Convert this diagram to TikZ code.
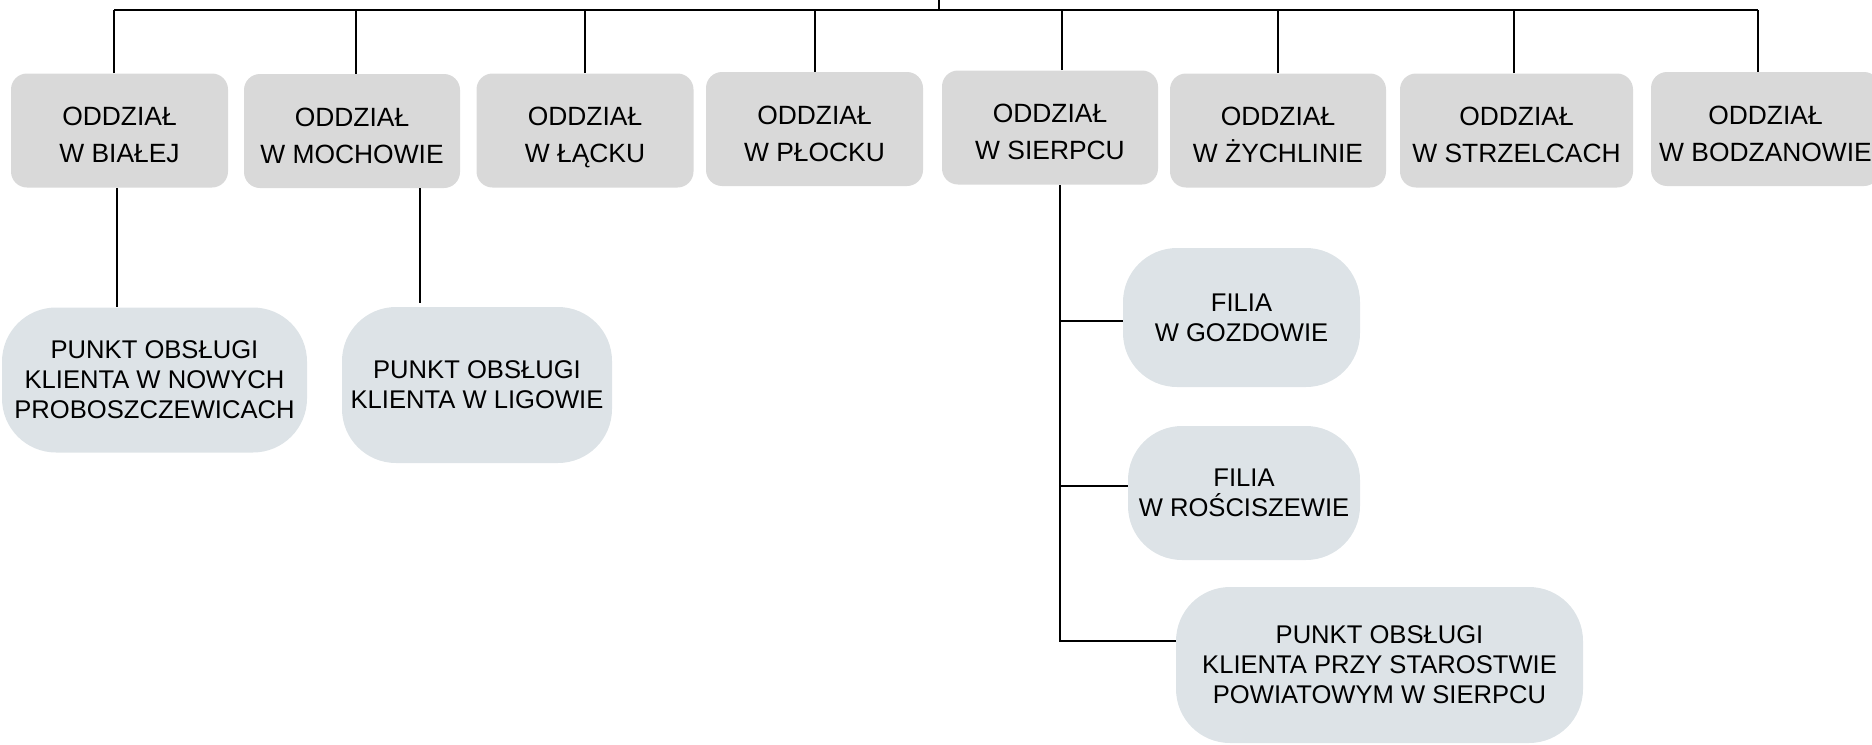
\documentclass[tikz,border=0pt]{standalone}
\usepackage{fontspec}
\setmainfont{Liberation Sans}
\definecolor{graybox}{RGB}{217,217,217}
\definecolor{bluebox}{RGB}{221,227,231}
\begin{document}
\begin{tikzpicture}[x=0.5pt,y=-0.5pt,
  conn/.style={draw=black,line width=1pt},
  oddzial/.style={rectangle,rounded corners=8pt,fill=graybox,inner sep=0pt,
    minimum height=57pt,align=center,text height=32pt,text depth=0pt,
    font=\fontsize{13.2}{18.35}\selectfont},
  punkt/.style={rectangle,rounded corners=27pt,fill=bluebox,inner sep=0pt,
    align=center,font=\fontsize{12.8}{15}\selectfont}]
\useasboundingbox (0,0) rectangle (1872,744);
\clip (0,0) rectangle (1872,744);
% row 1
\node[oddzial,minimum width=108.5pt] (b1) at (119.5,130.5) {ODDZIAŁ\\W BIAŁEJ};
\node[oddzial,minimum width=108pt] (b2) at (352,131) {ODDZIAŁ\\W MOCHOWIE};
\node[oddzial,minimum width=108.5pt] (b3) at (585,130.5) {ODDZIAŁ\\W ŁĄCKU};
\node[oddzial,minimum width=108.5pt] (b4) at (814.5,129) {ODDZIAŁ\\W PŁOCKU};
\node[oddzial,minimum width=108pt] (b5) at (1050,127.5) {ODDZIAŁ\\W SIERPCU};
\node[oddzial,minimum width=108pt] (b6) at (1278,130.5) {ODDZIAŁ\\W ŻYCHLINIE};
\node[oddzial,minimum width=116.5pt] (b7) at (1516.5,130.5) {ODDZIAŁ\\W STRZELCACH};
\node[oddzial,minimum width=114.5pt] (b8) at (1765.5,129) {ODDZIAŁ\\W BODZANOWIE};
% row 2
\node[punkt,minimum width=152.5pt,minimum height=72.5pt] (p1) at (154.5,380) {PUNKT OBSŁUGI\\KLIENTA W NOWYCH\\PROBOSZCZEWICACH};
\node[punkt,minimum width=135pt,minimum height=78pt] (p2) at (477,385) {PUNKT OBSŁUGI\\KLIENTA W LIGOWIE};
\node[punkt,minimum width=118.5pt,minimum height=69.5pt] (f1) at (1241.5,317.5) {FILIA\\W GOZDOWIE};
\node[punkt,minimum width=116pt,minimum height=67pt] (f2) at (1244,493) {FILIA\\W ROŚCISZEWIE};
\node[punkt,minimum width=203.5pt,minimum height=78pt] (p3) at (1379.5,665) {PUNKT OBSŁUGI\\KLIENTA PRZY STAROSTWIE\\POWIATOWYM W SIERPCU};
% bus
\coordinate (busL) at (114,9.5);
\coordinate (busR) at (1758,9.5);
\coordinate (par) at (939,-10);
\draw[conn] (busL) -- (busR);
\draw[conn] (par) -- (par |- busL);
\draw[conn] ([xshift=-2.75pt]b1.north) -- ([xshift=-2.75pt]b1.north |- busL);
\draw[conn] ([xshift=2pt]b2.north) -- ([xshift=2pt]b2.north |- busL);
\draw[conn] (b3.north) -- (b3.north |- busL);
\draw[conn] (b4.north) -- (b4.north |- busL);
\draw[conn] ([xshift=6pt]b5.north) -- ([xshift=6pt]b5.north |- busL);
\draw[conn] (b6.north) -- (b6.north |- busL);
\draw[conn] ([xshift=-1.25pt]b7.north) -- ([xshift=-1.25pt]b7.north |- busL);
\draw[conn] ([xshift=-3.75pt]b8.north) -- ([xshift=-3.75pt]b8.north |- busL);
% children
\draw[conn] ([xshift=-1.25pt]b1.south) -- ([xshift=-1.25pt]b1.south |- p1.north);
\draw[conn] ([xshift=34pt]b2.south) -- ([xshift=34pt,yshift=2pt]b2.south |- p2.north);
\draw[conn] ([xshift=5pt]b5.south) |- ([yshift=12pt]p3.west);
\draw[conn] ([xshift=5pt]b5.south |- f1.west) ++(0,3.5) -- ([yshift=-1.75pt]f1.west);
\draw[conn] ([xshift=5pt]b5.south |- f2.west) ++(0,-7.5) -- ([yshift=3.75pt]f2.west);
\end{tikzpicture}
\end{document}
